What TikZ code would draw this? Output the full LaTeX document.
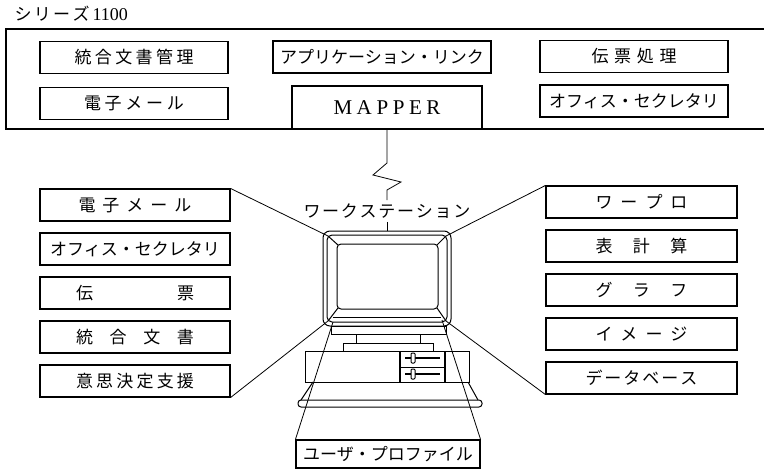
\documentclass[tikz,border=0pt]{standalone}
\usepackage{fontspec}
\setmainfont{Liberation Serif}
\newfontfamily\jp{Noto Sans CJK JP}
\newcommand{\spread}[2]{\makebox[#1][s]{#2}}

\begin{document}
\begin{tikzpicture}[x=1pt,y=-1pt,
  box/.style={draw,line width=1.1pt,inner sep=0pt,minimum height=32pt,font=\jp\fontsize{17}{17}\selectfont},
  link/.style={line width=0.8pt},
  unit/.style={line width=1pt}]
\useasboundingbox (0,0) rectangle (764,471);

% host side
\node[anchor=west,font=\fontsize{18}{18}\selectfont] (series) at (11,14) {{\jp\fontsize{17}{17}\selectfont\spread{75pt}{シ\hfill リ\hfill ー\hfill ズ}}\,1100};
\draw[line width=1.3pt] (766,29) -| (6,129) -- (766,129);
\node[box,minimum width=188pt] (tDoc) at (134,57.5) {\spread{119pt}{統\hfill 合\hfill 文\hfill 書\hfill 管\hfill 理}};
\node[box,minimum width=188pt] (tMail) at (134,103.5) {\spread{100pt}{電\hfill 子\hfill メ\hfill ー\hfill ル}};
\node[box,minimum width=218pt] (tLink) at (382,57) {アプリケーション・リンク};
\node[box,minimum width=190pt,minimum height=43pt,font=\fontsize{21}{21}\selectfont] (tMap) at (387,107.5) {\spread{107pt}{M\hfill A\hfill P\hfill P\hfill E\hfill R}};
\node[box,minimum width=188pt] (tSlip) at (634,56.5) {\spread{85pt}{伝\hfill 票\hfill 処\hfill 理}};
\node[box,minimum width=188pt] (tOffice) at (634,101) {オフィス・セクレタリ};

% workstation side
\node[box,minimum width=190pt] (lMail) at (135,205) {\spread{113pt}{電\hfill 子\hfill メ\hfill ー\hfill ル}};
\node[box,minimum width=190pt] (lOffice) at (135,249) {オフィス・セクレタリ};
\node[box,minimum width=190pt] (lSlip) at (135,293) {\spread{118pt}{伝\hfill 票}};
\node[box,minimum width=190pt] (lDoc) at (135,337) {\spread{118pt}{統\hfill 合\hfill 文\hfill 書}};
\node[box,minimum width=190pt] (lDecide) at (135,381) {\spread{118pt}{意\hfill 思\hfill 決\hfill 定\hfill 支\hfill 援}};

\node[box,minimum width=191pt] (rWord) at (641.5,202) {\spread{92pt}{ワ\hfill ー\hfill プ\hfill ロ}};
\node[box,minimum width=191pt] (rCalc) at (641.5,246) {\spread{92pt}{表\hfill 計\hfill 算}};
\node[box,minimum width=191pt] (rGraph) at (641.5,290) {\spread{92pt}{グ\hfill ラ\hfill フ}};
\node[box,minimum width=191pt] (rImage) at (641.5,334) {\spread{92pt}{イ\hfill メ\hfill ー\hfill ジ}};
\node[box,minimum width=191pt] (rDb) at (641.5,378) {\spread{112pt}{デ\hfill ー\hfill タ\hfill ベ\hfill ー\hfill ス}};

\node[box,minimum width=184pt,minimum height=28pt] (uProf) at (388,454) {ユーザ・プロファイル};
\node[font=\jp\fontsize{17}{17}\selectfont] (ws) at (387,211) {\spread{167pt}{ワ\hfill ー\hfill ク\hfill ス\hfill テ\hfill ー\hfill シ\hfill ョ\hfill ン}};

% line from the host
\draw[link] (tMap.south) -- (387,163) -- (373,175) -- (401,182) -- (387,190) -- (ws.north);

% monitor
\coordinate (mTop) at (387,231);
\coordinate (bzTL) at (328,236);
\coordinate (bzTR) at (446,236);
\coordinate (bzBL) at (328,321);
\coordinate (bzBR) at (446,321);
\coordinate (scTL) at (338,245);
\coordinate (scTR) at (437,245);
\coordinate (scBL) at (338,308);
\coordinate (scBR) at (437,308);
\draw[link] (ws.south) -- (mTop);
\draw[unit,rounded corners=7pt] (323,231) rectangle (451,326);
\draw[unit,rounded corners=5pt] (327,235) rectangle (447,322);
\draw[unit,rounded corners=4pt] (337,244) rectangle (438,309);
\draw[unit] (bzTL) -- (scTL) (bzTR) -- (scTR) (bzBL) -- (scBL) (bzBR) -- (scBR);
\draw[unit] (333,317) -- (441,317);
\draw[unit] (331,326) rectangle (446,334);
\draw[unit] (356,334) -- (356,343) (420,334) -- (420,343);
\draw[unit] (343,343) rectangle (433,351);

% system unit and keyboard
\draw[unit] (305,351) rectangle (469,382);
\draw[line width=2pt] (400,351) -- (400,382);
\draw[line width=1.6pt] (445,351) -- (445,382);
\draw[unit] (400,367) -- (445,367);
\draw[line width=1.6pt] (405,358) -- (440,358) (405,374) -- (440,374);
\draw[unit,fill=white,rounded corners=1pt] (411,353) rectangle (415,363);
\draw[unit,fill=white,rounded corners=1pt] (411,369) rectangle (415,379);
\draw[unit] (313,382) -- (301,400) (468,382) -- (478,400);
\draw[unit,rounded corners=3pt] (298,400) rectangle (482,407);

% connectors
\draw[link] (lMail.north east) -- (bzTL);
\draw[link] (lDecide.south east) -- (bzBL);
\draw[link] (rWord.north west) -- (bzTR);
\draw[link] (rDb.south west) -- (bzBR);
\draw[link] (uProf.north west) -- (333,322);
\draw[link] (uProf.north east) -- (442,320);
\end{tikzpicture}
\end{document}
